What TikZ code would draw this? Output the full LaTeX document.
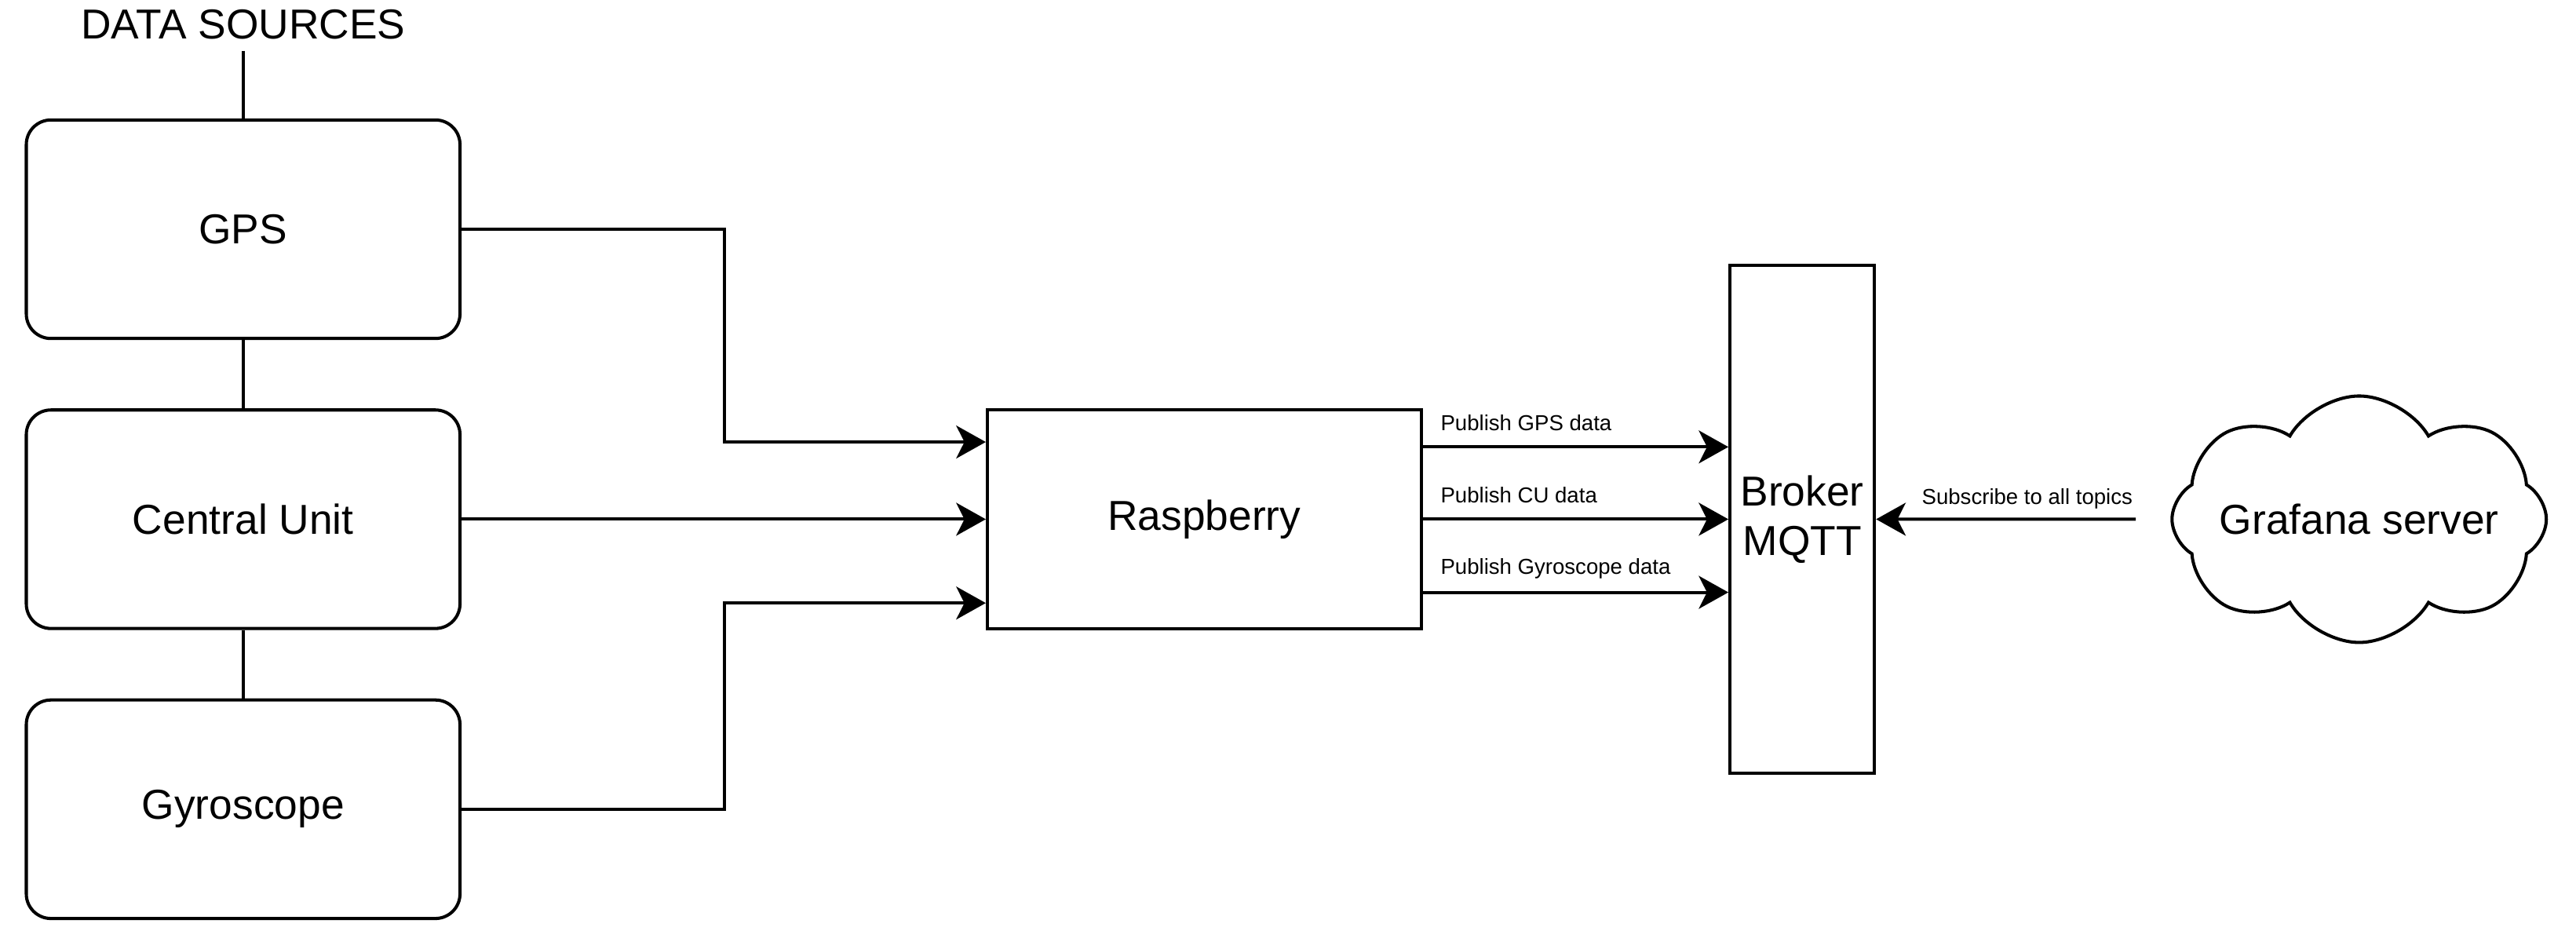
\documentclass[tikz,border=0pt]{standalone}
\usepackage{fontspec}
\setmainfont{Liberation Sans}
\usepackage{tikz}
\usetikzlibrary{arrows.meta}
\usetikzlibrary{positioning}
\usetikzlibrary{shapes.symbols}

\begin{document}
\begin{tikzpicture}[-,node distance=3.53cm,
			line width=1.1pt,source node/.style={rectangle,rounded corners=0.3cm,draw,
				font=\fontsize{14.5}{17}\selectfont,minimum width=5.28cm,minimum height=2.66cm},
			block node/.style={rectangle,draw,font=\fontsize{14.5}{17}\selectfont,
				minimum width=5.28cm,minimum height=2.66cm},
			cloud node/.style={cloud,cloud puffs=8,cloud puff arc=120,draw,cloud ignores aspect,
				inner sep=0pt,minimum width=4.2cm,minimum height=3.0cm,font=\fontsize{14.5}{17}\selectfont},
			lbl node/.style={font=\fontsize{7.5}{9}\selectfont,inner sep=0pt},
			flow/.style={-{Stealth[length=0.36cm,width=0.4cm,inset=0.1cm]}}]
			
			\useasboundingbox (0,0) rectangle (31.36,-11.33);
			\node[source node] (gps) at (2.96,-2.79) {GPS};
			\node[source node] (cu) [below of=gps] {Central Unit};
			\node[source node] (gyro) [below of=cu] {Gyroscope};
			\node[font=\fontsize{14.5}{17}\selectfont] (title) [above of=gps,node distance=2.49cm] {DATA SOURCES};
			\node[block node] (rasp) [right of=cu,node distance=11.7cm] {Raspberry};
			\node[block node,minimum width=1.76cm,minimum height=6.18cm,align=center] (broker) [right of=rasp,node distance=7.28cm] {Broker\\MQTT};
			\node[cloud node] (grafana) [right of=broker,node distance=6.78cm] {Grafana server};
			\coordinate (sub) at (26.0,-6.32);
			
			\path (title) edge (gps)
			(gps) edge (cu)
			(cu) edge (gyro);
			
			\draw[flow] (gps.east) -- ++(3.2,0) |- ([yshift=0.94cm]rasp.west);
			\draw[flow] (cu) -- (rasp);
			\draw[flow] (gyro.east) -- ++(3.2,0) |- ([yshift=-1.02cm]rasp.west);
			
			\draw[flow] ([yshift=0.88cm]rasp.east) -- node[lbl node,pos=0,anchor=west,xshift=0.2cm,yshift=0.29cm] {Publish GPS data} ([yshift=0.88cm]broker.west);
			\draw[flow] (rasp.east) -- node[lbl node,pos=0,anchor=west,xshift=0.2cm,yshift=0.29cm] {Publish CU data} (broker.west);
			\draw[flow] ([yshift=-0.89cm]rasp.east) -- node[lbl node,pos=0,anchor=west,xshift=0.2cm,yshift=0.29cm] {Publish Gyroscope data} ([yshift=-0.89cm]broker.west);
			
			\draw[flow] (sub) -- node[lbl node,pos=0.418,yshift=0.25cm] {Subscribe to all topics} (broker.east);
		\end{tikzpicture}
\end{document}
